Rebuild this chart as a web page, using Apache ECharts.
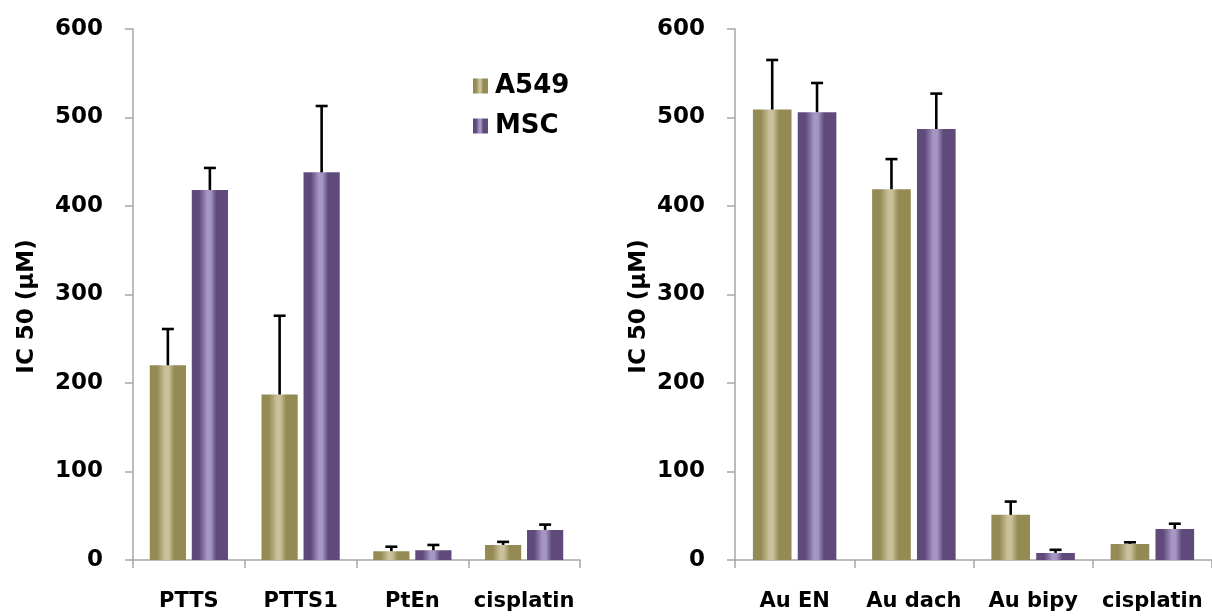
<!DOCTYPE html>
<html>
<head>
<meta charset="utf-8">
<script src="https://cdn.jsdelivr.net/npm/echarts@6/dist/echarts.min.js"></script>
<style>
  html, body { margin: 0; padding: 0; background: #fff; }
  #chart { width: 1212px; height: 616px; }
</style>
</head>
<body>
<div id="chart"></div>
<script>
// IC50 values (µM) with upper error, two cell lines, two compound panels
const ptCompounds = ['PTTS', 'PTTS1', 'PtEn', 'cisplatin'];
const ptA549 = [220, 187, 10, 17];
const ptA549Err = [41, 89, 5, 3.5];
const ptMSC = [418, 438, 11, 34];
const ptMSCErr = [25, 75, 6, 6];

const auCompounds = ['Au EN', 'Au dach', 'Au bipy', 'cisplatin'];
const auA549 = [509, 419, 51, 18];
const auA549Err = [56, 34, 15, 2];
const auMSC = [506, 487, 8, 35];
const auMSCErr = [33, 40, 3.5, 6];

const yTicks = [0, 100, 200, 300, 400, 500, 600];

const FONT = 'DejaVu Sans';
const CAT_GAP = 0.30;
const BAR_GAP = 0.16;

function stripe(dark, light, mid) {
  return {
    type: 'linear', x: 0, y: 0, x2: 1, y2: 0,
    colorStops: [
      { offset: 0, color: dark },
      { offset: 0.2, color: dark },
      { offset: 0.3, color: mid },
      { offset: 0.42, color: light },
      { offset: 0.52, color: light },
      { offset: 0.68, color: dark },
      { offset: 1, color: dark }
    ]
  };
}
const oliveFill = stripe('#948A54', '#C8C19A', '#ABA272');
const purpleFill = stripe('#604A7B', '#A697C2', '#7E6A9C');

function xAxisFor(gridIndex, cats) {
  return {
    type: 'category', gridIndex, data: cats,
    axisLine: { lineStyle: { color: '#A6A6A6', width: 1.5 } },
    axisTick: { show: true, length: 8, lineStyle: { color: '#A6A6A6', width: 1.5 } },
    axisLabel: { color: '#000', fontFamily: FONT, fontWeight: 'bold', fontSize: 21, margin: 31, interval: 0 }
  };
}
function yAxisFor(gridIndex, gap) {
  return {
    type: 'value', gridIndex, min: 0, max: 600, interval: 100,
    name: 'IC 50 (\u03bcM)', nameLocation: 'middle', nameGap: gap,
    nameTextStyle: { color: '#000', fontFamily: FONT, fontWeight: 'bold', fontSize: 23, padding: [0, 24, 0, 0] },
    splitLine: { show: false },
    axisLine: { show: true, lineStyle: { color: '#A6A6A6', width: 1.5 } },
    axisTick: { show: true, length: 8, lineStyle: { color: '#A6A6A6', width: 1.5 } },
    axisLabel: {
      color: '#000', fontFamily: FONT, fontWeight: 'bold', fontSize: 23, margin: 30,
      formatter: v => (yTicks.indexOf(v) >= 0 ? String(v) : '')
    }
  };
}

function barSeries(name, axisIdx, values, fill) {
  return {
    name, type: 'bar', xAxisIndex: axisIdx, yAxisIndex: axisIdx, data: values,
    barCategoryGap: (CAT_GAP * 100) + '%', barGap: (BAR_GAP * 100) + '%',
    itemStyle: { color: fill }, emphasis: { disabled: true }, z: 2
  };
}

// upward error whisker with a cap, aligned to the bar at slot `slot` (0 or 1)
function errorSeries(name, axisIdx, values, errs, slot) {
  return {
    name, type: 'custom', xAxisIndex: axisIdx, yAxisIndex: axisIdx, z: 3,
    data: values.map((v, i) => [i, v, v + errs[i]]),
    encode: { x: 0, y: [1, 2] },
    renderItem(params, api) {
      const i = api.value(0);
      const base = api.coord([i, api.value(1)]);
      const top = api.coord([i, api.value(2)]);
      const band = api.size([1, 0])[0];
      const barW = band * (1 - CAT_GAP) / (2 + BAR_GAP);
      const shift = (slot === 0 ? -1 : 1) * (barW * (1 + BAR_GAP)) / 2;
      const x = base[0] + shift;
      const style = { stroke: '#000', lineWidth: 2.6 };
      return {
        type: 'group',
        children: [
          { type: 'line', shape: { x1: x, y1: base[1], x2: x, y2: top[1] }, style },
          { type: 'line', shape: { x1: x - 6, y1: top[1], x2: x + 6, y2: top[1] }, style }
        ]
      };
    }
  };
}

const chart = echarts.init(document.getElementById('chart'), null, { renderer: 'canvas' });
chart.setOption({
  animation: false,
  backgroundColor: '#fff',
  legend: {
    data: ['A549', 'MSC'], orient: 'vertical', left: 468, top: 68,
    icon: 'rect',
    itemWidth: 15, itemHeight: 15, itemGap: 14, selectedMode: false,
    textStyle: { color: '#000', fontFamily: FONT, fontWeight: 'bold', fontSize: 26, lineHeight: 26, padding: [0, 0, 0, 2] }
  },
  grid: [
    { left: 133, top: 29, width: 447, height: 531 },
    { left: 735, top: 29, width: 477, height: 531 }
  ],
  xAxis: [xAxisFor(0, ptCompounds), xAxisFor(1, auCompounds)],
  yAxis: [yAxisFor(0, 94), yAxisFor(1, 84)],
  series: [
    barSeries('A549', 0, ptA549, oliveFill),
    barSeries('MSC', 0, ptMSC, purpleFill),
    barSeries('A549', 1, auA549, oliveFill),
    barSeries('MSC', 1, auMSC, purpleFill),
    errorSeries('A549 error', 0, ptA549, ptA549Err, 0),
    errorSeries('MSC error', 0, ptMSC, ptMSCErr, 1),
    errorSeries('A549 error', 1, auA549, auA549Err, 0),
    errorSeries('MSC error', 1, auMSC, auMSCErr, 1)
  ]
});
</script>
</body>
</html>
